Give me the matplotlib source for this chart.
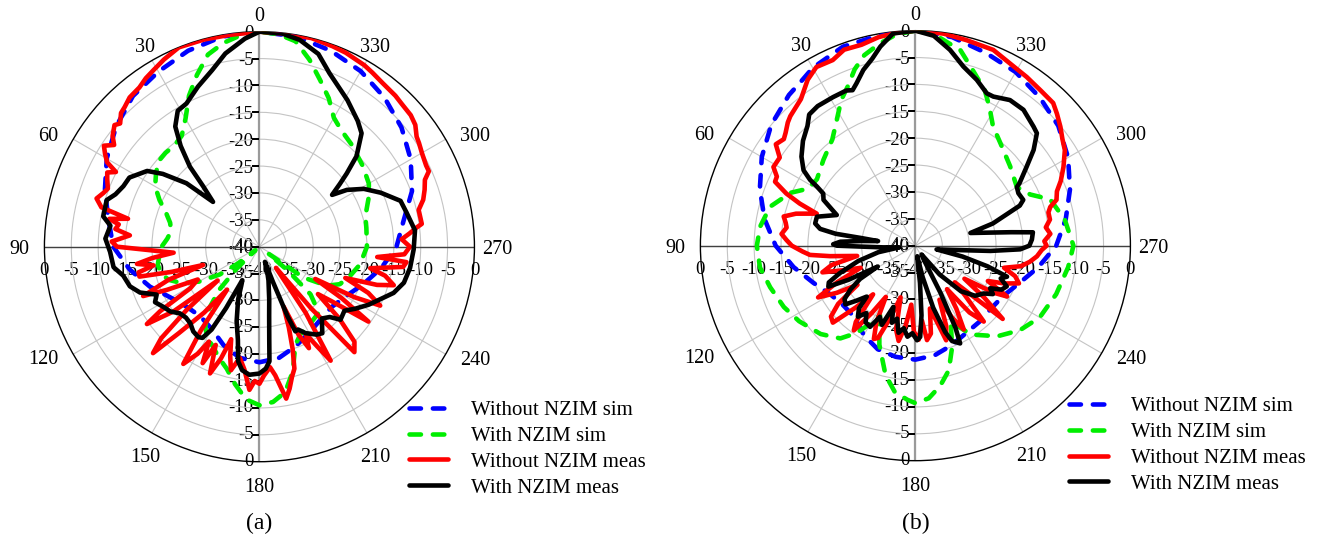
import numpy as np
import matplotlib
matplotlib.use("Agg")
import matplotlib.pyplot as plt

plt.rcParams['font.family'] = ['Liberation Serif', 'DejaVu Serif']

# ---------------- data: panel (a) ----------------
a_blue_ang = [0, 10, 20, 30, 40, 50, 60, 70, 80, 90, 100, 110, 120, 130, 140, 150, 160, 170, 180,
              190, 200, 210, 220, 230, 240, 250, 260, 270, 280, 290, 300, 310, 320, 330, 340, 350, 360]
a_blue_db = [0, -0.3, -1.2, -2.4, -3.4, -5.2, -7.2, -9.4, -11.5, -12.8, -15.5, -18.3, -21, -22.5, -23,
             -22.3, -20.5, -19, -18.5, -19, -20.3, -21.5, -22.3, -22.5, -21.5, -19.5, -17, -14.5, -12.8,
             -9.8, -7.5, -5.5, -3.8, -2.3, -1.2, -0.3, 0]

a_green_ang = [0, 5, 10, 15, 20, 25, 30, 35, 40, 45, 50, 55, 60, 65, 70, 75, 80, 85, 90, 95, 100, 105,
               110, 115, 120, 125, 128, 131, 134, 137, 141, 146, 150, 155, 160, 165, 170, 175, 180, 185,
               190, 195, 200, 205, 210, 215, 222, 227, 230, 232, 235, 240, 245, 252, 260, 270, 280, 286,
               295, 300, 308, 318, 325, 330, 335, 340, 345, 350, 355, 360]
a_green_db = [0, -0.5, -1.5, -3, -6, -9, -12.5, -14.8, -15.4, -15.3, -15.4, -16.5, -17.6, -19.5, -21.5,
              -22.8, -23.3, -22.8, -21.8, -21.3, -20.8, -21, -22, -24, -27, -31, -35, -39, -34, -29, -25,
              -22, -20.5, -19.5, -18, -16.5, -14, -11.5, -10.5, -11, -12.5, -16, -20.5, -22, -22.5, -23,
              -23.5, -27, -33, -38, -30, -25.5, -23.5, -22.3, -21, -20, -19.8, -19.5, -17.5, -16.5, -15.6,
              -14.4, -13.5, -12.3, -9.5, -7, -4, -1.2, -0.3, 0]

a_red_ang = [0, 8, 15, 22, 27, 31, 34, 37, 41, 44, 46, 48.5, 50, 53, 55, 57, 59, 61, 62.5, 64, 66, 69,
             71, 73.5, 76, 78, 79.5, 81, 83, 85, 88, 90, 92, 94, 96, 98, 100, 102, 104, 106, 108, 110,
             113, 115, 118, 121, 123, 124.5, 127, 129, 131, 133, 135, 137, 140, 143, 145, 147, 150, 152,
             154, 156, 158.7, 161, 163, 165, 167, 170, 173, 176, 178, 180, 182, 185, 187, 190, 192, 194,
             196, 198, 200, 202, 204, 206, 208, 210, 212, 215, 218, 220, 222, 225, 228, 231, 233, 235.5,
             238, 240, 242, 244, 247, 250, 252, 254, 257, 259, 262, 264, 265, 267, 270, 273, 275, 277,
             278, 281, 283, 286, 289, 292, 294, 296, 300, 303, 305, 308, 311, 315, 318, 323, 327, 330,
             336, 340, 346, 354, 360]
a_red_db = [0, -0.2, -0.1, 0, -0.9, -1.7, -2.2, -2.9, -3.2, -3.9, -4.2, -5.4, -4.8, -5.8, -7, -5.5,
            -6.5, -7.6, -9.9, -8.5, -9, -9.8, -9.3, -8.4, -9.7, -15, -11.6, -13.5, -13, -15.8, -12.5,
            -13.5, -20, -24, -20, -17, -20, -17, -17, -23, -29, -22, -16.5, -21, -27, -25, -18, -14.6,
            -20, -30, -22, -15, -12, -18, -24, -30, -21, -14, -17, -20, -15.9, -20, -14.7, -18, -22,
            -19, -16.4, -19, -17, -13.3, -15, -14.5, -16, -17.5, -15.9, -11.3, -13, -15, -16.4, -20,
            -24, -28, -22, -19, -21.6, -18.7, -15, -25, -35, -25, -13.6, -15, -20, -26, -23, -15.4,
            -22, -28, -20, -15, -18, -23, -17, -14, -16, -19, -13, -12.5, -18, -13, -12, -13.5, -12,
            -10.5, -9.5, -9.6, -9.6, -8.3, -7.5, -6.8, -5.5, -5.5, -5.1, -4.6, -4.3, -3.2, -2.7, -2.5,
            -2.2, -1.9, -1.4, -1, -0.5, -0.3, 0, -0.1, 0]

a_black_ang = [0, 4, 10, 15, 21, 27, 31, 35, 38, 41, 43, 46, 49, 53, 56, 62, 66, 70, 73, 79, 82, 87,
               92, 98, 102, 107, 111, 115, 118, 122, 126, 130, 134, 138, 142, 146, 148, 150, 151.5, 153,
               155, 158, 163, 167, 169.5, 172, 175.5, 180, 183, 185, 186, 188, 190.5, 195, 198, 200, 201,
               202, 203, 205, 208, 213, 216, 221, 225, 228, 233, 237, 242, 247, 251, 256, 262, 269, 276,
               283, 288, 294, 299, 303, 305.5, 308, 310, 313, 318, 322, 329, 338, 343, 349, 354, 360]
a_black_db = [0, -1.2, -3.5, -6, -8.1, -10.1, -10.5, -12.7, -16.2, -20.3, -24.7, -28, -22, -17.5, -14.8,
              -12.6, -12.3, -11.5, -10.3, -10.4, -12, -11.3, -12.2, -12.6, -14.1, -14.8, -16.2, -18.9,
              -18, -18.9, -19.5, -20.7, -21, -20.8, -20, -19.7, -20, -22.2, -27, -33, -32, -29.4, -25.5,
              -22.2, -18.3, -16.8, -16.1, -16.4, -17.3, -18.6, -22.5, -27, -30, -33.5, -35.5, -37, -33,
              -26, -22.9, -23, -21.8, -20.5, -20.1, -22.3, -21.5, -19.7, -20.2, -18.8, -17, -15.3, -13.6,
              -12.3, -11.7, -11.3, -10.9, -11.9, -12.4, -15.3, -17.8, -20.6, -23.4, -21, -18.8, -15.3,
              -11.6, -10.3, -8.2, -5.2, -2.5, -0.8, -0.1, 0]

# ---------------- data: panel (b) ----------------
b_blue_ang = [0, 10, 20, 30, 35, 40, 50, 60, 70, 80, 90, 100, 110, 120, 130, 140, 150, 160, 170, 180,
              190, 200, 210, 220, 230, 240, 250, 260, 270, 280, 290, 300, 310, 320, 330, 340, 350, 360]
b_blue_db = [0, -0.3, -0.6, -1.8, -2.8, -3.4, -5, -7, -9.2, -11.5, -14, -17, -19.8, -21.8, -22.6, -22.5,
             -20.8, -19.5, -19, -18.8, -19.3, -20.3, -21.2, -21.5, -21.7, -21.2, -19.5, -16.8, -13.8,
             -11.6, -9.4, -7.2, -5.3, -4, -2.7, -1.8, -0.6, 0]

b_green_ang = [0, 5, 10, 15, 19, 23, 27, 32, 38, 47, 56, 62, 67, 75, 83, 90, 98, 106, 115, 123, 133,
               141, 146, 150, 153, 156, 160, 167, 172, 177, 180, 185, 190, 195, 200, 205, 208, 212, 218,
               222, 231, 240, 251, 262, 270, 280, 289, 294, 300, 310, 320, 327, 332, 336, 342, 347, 355,
               360]
b_green_db = [0, -0.5, -1.8, -3.3, -5.3, -7.8, -9.6, -12.4, -14.9, -16.6, -17.9, -17.4, -14.8, -12,
              -10.9, -10.5, -10.8, -11.9, -13, -14.2, -15.9, -17.8, -20.4, -23.3, -25.5, -23.5, -20.4,
              -15.3, -12.5, -11.3, -10.7, -11.5, -13.5, -16, -20, -24.5, -23, -20.5, -18.8, -17.3, -15,
              -13.3, -12.3, -11.3, -10.6, -11.8, -13.5, -16.6, -18.2, -17, -15.3, -13.5, -10.7, -8.3,
              -5.6, -2.7, -0.5, 0]

b_red_ang = [0, 5, 10, 15, 20, 24, 29, 33, 38, 44, 46, 49, 51, 54, 57, 61, 63.5, 65.5, 68, 70, 72, 75,
             77.5, 80, 82, 85, 87.5, 90, 93, 95, 97, 100, 103, 106, 109, 112, 115, 118, 121, 124, 127,
             130, 133, 136, 139, 142, 144, 147, 150, 153, 156, 158, 161, 164, 167, 170, 173, 176, 179,
             182, 185, 187, 190, 193, 196, 198, 201, 204, 207, 210, 213, 216, 219, 222, 225, 227, 230,
             233, 236, 239, 241, 244, 247, 250, 253, 256, 259, 262, 265, 268, 270, 272, 275, 278, 281,
             284, 286, 288, 291, 294, 298, 302.6, 306, 309.4, 313, 316, 321, 326.6, 332.6, 338.3, 346,
             352.5, 360]
b_red_db = [0, -0.2, -0.6, -1.3, -1.2, -2.2, -2, -3.2, -5.4, -6.5, -7, -8, -8.5, -7.9, -9.9, -9.8,
            -11.2, -11.3, -14.1, -17.1, -20.7, -17, -14.9, -15.5, -15.8, -15, -16, -17, -19, -20.3, -24,
            -29, -24, -22, -26, -29, -24, -19.5, -23, -27, -22, -19.5, -19, -24, -28, -22, -20.5, -25,
            -29, -24, -21, -21.5, -26, -30, -24, -22, -25, -29, -24, -22.5, -26, -22.3, -23.4, -28, -25,
            -21.5, -24, -29, -25, -22, -26, -30, -24, -21, -27, -30, -18.8, -24, -29, -23, -20.5, -25,
            -22, -19.5, -20.6, -23, -20, -18.5, -17.3, -16.5, -15.6, -16, -14.8, -15.5, -14.5, -14.5,
            -13.9, -12.4, -11.8, -10.4, -8.8, -7, -6.2, -5.1, -4, -3.1, -2.9, -2.4, -1.8, -0.8, -0.6,
            -0.2, 0]

b_black_ang = [0, 6, 10, 13, 16.5, 20, 22, 24, 29, 35, 39, 42, 47, 52, 56, 58, 59, 60.5, 63.5, 68.7,
               73.6, 77.5, 80, 81.5, 82, 83, 85, 87, 89, 90, 91, 93, 96, 100, 105, 110, 113, 115.2, 117,
               119, 121, 124, 127, 130, 133, 136.3, 138, 141, 144, 147, 150.8, 153.5, 157, 160.2, 163,
               166, 169, 172, 175, 178, 181, 183, 185, 187, 190, 193, 196, 199, 201, 204.6, 206, 208,
               211, 215, 220, 225, 230, 235, 238, 240.3, 243, 246, 249, 251.3, 254, 257, 260, 263.5,
               266, 268, 270, 273, 276.5, 278, 280, 283, 286, 289, 291, 293, 297, 300, 301, 305.4, 309,
               312.8, 315.2, 321.5, 327, 332.4, 334.9, 339.7, 345, 350, 355, 360]
b_black_db = [0, -0.3, -2.4, -4.3, -5.9, -7.9, -8.8, -8.4, -8.4, -8.3, -8.6, -10, -11.4, -13.1, -14.9,
              -16.9, -18.6, -20.3, -20.9, -24.3, -20.9, -20.9, -22, -25, -30, -33, -30, -26, -24.7,
              -25.4, -30, -34, -37, -33, -29, -25, -22.5, -22.1, -26, -32, -28, -25.4, -23.5, -23, -25,
              -26.9, -24.3, -23, -24.5, -23, -22.7, -25.2, -24, -27.9, -25, -26, -23.5, -24.5, -23,
              -23.7, -22.4, -23, -27, -33, -38, -34, -28, -23, -21, -20, -23, -30, -37, -38, -33, -28,
              -25.5, -24.5, -23, -24, -22, -21.4, -23, -22, -26, -31, -36, -33, -26, -20.5, -18.8,
              -18.3, -18, -22, -26, -29.5, -25, -22, -19.2, -18.2, -18.5, -18.2, -17.4, -14.6, -11.7,
              -9.2, -8.8, -7.7, -7.7, -8.7, -8.7, -7.1, -5.5, -3, -0.8, 0]

series_labels = ['Without NZIM sim', 'With NZIM sim', 'Without NZIM meas', 'With NZIM meas']
series_colors = ['#0000ff', '#00ee00', '#ff0000', '#000000']
theta_ticks = list(range(0, 360, 30))
r_ticks = [0, -5, -10, -15, -20, -25, -30, -35, -40]

panels = [
    dict(rect=[0.0335, 0.1434, 0.3243, 0.7978], tag='(a)',
         data=[(a_blue_ang, a_blue_db), (a_green_ang, a_green_db),
               (a_red_ang, a_red_db), (a_black_ang, a_black_db)],
         leg=(0.3085, 0.257)),
    dict(rect=[0.5282, 0.1453, 0.3243, 0.7978], tag='(b)',
         data=[(b_blue_ang, b_blue_db), (b_green_ang, b_green_db),
               (b_red_ang, b_red_db), (b_black_ang, b_black_db)],
         leg=(0.8065, 0.264)),
]

# pixel offset of each angle label centre from the polar centre
label_pos = {0: (0, 233), 30: (-114, 202), 60: (-211, 113), 90: (-240, 0),
             120: (-216, -110), 150: (-114, -208), 180: (0, -238), 210: (116, -208),
             240: (216, -111), 270: (238, 0), 300: (216, 113), 330: (116, 202)}

fig = plt.figure(figsize=(13.26, 5.39), dpi=100)

for p in panels:
    ax = fig.add_axes(p['rect'], projection='polar')
    ax.set_theta_zero_location('N')
    ax.set_theta_direction(1)
    ax.set_rlim(-40, 0)
    ax.set_yticks([-35, -30, -25, -20, -15, -10, -5])
    ax.set_yticklabels([])
    ax.set_thetagrids(theta_ticks, labels=['' for t in theta_ticks])
    ax.tick_params(axis='x', pad=3, direction='inout', length=8, width=1, colors='black')
    ax.grid(True, color='#c4c4c4', lw=0.8)
    ax.spines['polar'].set_color('black')
    ax.spines['polar'].set_linewidth(1.0)

    # angle labels
    for t in theta_ticks:
        ox, oy = label_pos[t]
        ax.annotate(str(t), xy=(0, -40), xytext=(ox, oy - 3),
                    textcoords='offset pixels', ha='center', va='center',
                    fontsize=14.5, annotation_clip=False)

    # axis cross
    ax.plot([0, 0], [-40, 0], color='#9a9a9a', lw=1.6, zorder=2)
    ax.plot([np.pi, np.pi], [-40, 0], color='#9a9a9a', lw=1.6, zorder=2)
    ax.plot([np.pi / 2, np.pi / 2], [-40, 0], color='#404040', lw=1.0, zorder=2)
    ax.plot([3 * np.pi / 2, 3 * np.pi / 2], [-40, 0], color='#404040', lw=1.0, zorder=2)

    # radial tick marks and labels
    for v in r_ticks:
        for th in (0.0, np.pi):
            ax.plot([th], [v], marker=0, ms=5, mew=1.2, color='black', zorder=2)
            ax.annotate(str(v), xy=(th, v), xytext=(-6, -2 if th == 0 else 0),
                        textcoords='offset pixels', ha='right', va='center',
                        fontsize=13.5, zorder=1)
        for th in (np.pi / 2, 3 * np.pi / 2):
            if th == 3 * np.pi / 2 and v == -40:
                continue
            ax.annotate(str(v), xy=(th, v), xytext=(0, -24),
                        textcoords='offset pixels', ha='center', va='center',
                        fontsize=13.5, zorder=1)

    handles = []
    for (ang, db), col, lab in zip(p['data'], series_colors, series_labels):
        th = np.radians(np.array(ang, dtype=float))
        r = np.array(db, dtype=float)
        if col in ('#0000ff', '#00ee00'):
            ln, = ax.plot(th, r, color=col, lw=3.3, ls=(0, (2.5, 2.6)),
                          dash_capstyle='round', label=lab, zorder=3)
        else:
            ln, = ax.plot(th, r, color=col, lw=3.3, solid_capstyle='round',
                          solid_joinstyle='round', label=lab, zorder=4)
        handles.append(ln)

    fig.legend(handles=handles, labels=series_labels, loc='upper left',
               bbox_to_anchor=p['leg'], frameon=False, fontsize=15,
               handlelength=1.85, handletextpad=1.1, labelspacing=0.3,
               borderaxespad=0, borderpad=0)

    cx = p['rect'][0] + p['rect'][2] / 2
    fig.text(cx, 0.029, p['tag'], ha='center', va='center', fontsize=17)

fig.savefig('out.png', dpi=100)
